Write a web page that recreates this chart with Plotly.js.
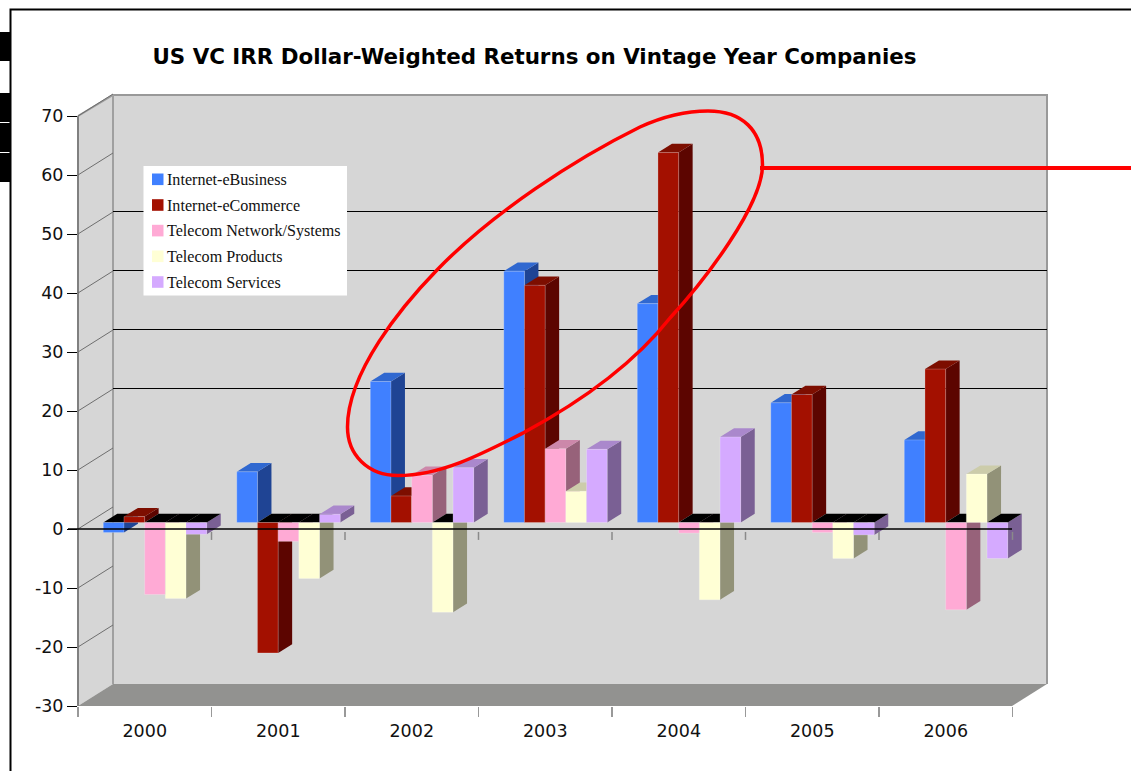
<!DOCTYPE html>
<html>
<head>
<meta charset="utf-8">
<script src="https://cdn.plot.ly/plotly-3.0.1.min.js"></script>
<style>html,body{margin:0;padding:0;background:#fff}</style>
</head>
<body>
<div id="chart" style="width:1131px;height:771px"></div>
<script>
// ---- data ----
const years = ['2000','2001','2002','2003','2004','2005','2006'];
const internetEBusiness  = [-1.7,  8.6, 23.9, 42.6, 37.1, 20.3, 14.0];
const internetECommerce  = [ 1.0,-22.1,  4.5, 40.2, 62.7, 21.7, 26.0];
const telecomNetwork     = [-12.2,-3.2,  8.0, 12.5, -1.8, -1.7,-14.8];
const telecomProducts    = [-12.9,-9.5,-15.2,  5.3,-13.1, -6.1,  8.2];
const telecomServices    = [-2.0,  1.4,  9.3, 12.4, 14.5, -2.1, -6.1];
const seriesNames  = ['Internet-eBusiness','Internet-eCommerce','Telecom Network/Systems','Telecom Products','Telecom Services'];
const seriesValues = [internetEBusiness,internetECommerce,telecomNetwork,telecomProducts,telecomServices];
const frontColors = ['#4080ff','#a31000','#ffaad5','#ffffd5','#d5aaff'];
const sideColors  = ['#1f4494','#5c0500','#97627a','#929278','#7a6094'];
const topColors   = ['#3068d0','#7d0e00','#cc88aa','#ccccaa','#aa88cc'];
const yTicks = [-30,-20,-10,0,10,20,30,40,50,60,70];
const wallGrid = [20,30,40,50];

// ---- geometry of the fake 3-D box ----
const L=78, R=1047, T=95, B=706;
const pxPerCat=133.5, pxPerUnit=5.9;
const wallDx=35, wallDy=22;
const barShiftX=10.25/pxPerCat, barShiftY=6.5/pxPerUnit;
const depthX=14/pxPerCat, depthY=8.7/pxPerUnit;
const bargap=0.225, barW=(1-bargap)/5;
const xRange=[-0.5,-0.5+(R-L)/pxPerCat];
const yRange=[-30,-30+(B-T)/pxPerUnit];
const px=x=>(x-L)/(R-L), py=y=>(B-y)/(B-T);

const shapes=[], annotations=[];
const paperRect=(x0,y0,x1,y1,fill)=>shapes.push({type:'rect',xref:'paper',yref:'paper',layer:'below',
  x0:px(x0),x1:px(x1),y0:py(y0),y1:py(y1),fillcolor:fill,line:{width:0}});
const paperPath=(pts,fill,line)=>shapes.push({type:'path',xref:'paper',yref:'paper',layer:'below',
  path:'M'+pts.map(p=>px(p[0])+','+py(p[1])).join('L')+(fill?'Z':''),fillcolor:fill||'rgba(0,0,0,0)',line:line||{width:0}});

// page furniture
[[32,61],[93,122],[123,152],[153,182]].forEach(b=>paperRect(0,b[0],10,b[1],'#000'));
paperPath([[10.5,771],[10.5,9.5],[1131,9.5]],null,{color:'#000',width:2});

// walls and floor
paperPath([[L,B],[L,B-590],[L+wallDx,T],[L+wallDx,B-wallDy]],'#d6d6d6');
paperPath([[L+wallDx,T],[R,T],[R,B-wallDy],[L+wallDx,B-wallDy]],'#d6d6d6');
paperPath([[L,B],[L+wallDx,B-wallDy],[R,B-wallDy],[R-wallDx,B]],'#929290');
paperPath([[L,B],[L,B-590]],null,{color:'#808080',width:2});
paperPath([[L,B-590],[L+wallDx,T],[R,T],[R,B-wallDy]],null,{color:'#999',width:2});
paperPath([[L+wallDx,T],[L+wallDx,B-wallDy]],null,{color:'#a0a0a0',width:2});
yTicks.slice(1).forEach(v=>{
  const y=B-(v-yRange[0])*pxPerUnit;
  paperPath([[L,y],[L+wallDx,y-wallDy]],null,{color:'#6e6e6e',width:1});
});
wallGrid.forEach(v=>{
  const y=B-(v-yRange[0])*pxPerUnit-wallDy-0.5;
  paperPath([[L+wallDx,y],[R,y]],null,{color:'#000',width:1});
});

// bar side and top faces, through the bars' own axes
const poly=(pts,fill)=>shapes.push({type:'path',xref:'x2',yref:'y2',layer:'below',
  path:'M'+pts.map(p=>p[0]+','+p[1]).join('L')+'Z',fillcolor:fill,line:{width:0}});
years.forEach((yr,i)=>{
  seriesValues.forEach((vals,k)=>{
    const v=vals[i], x0=i-(1-bargap)/2+k*barW, x1=x0+barW;
    const top=Math.max(v,0);
    poly([[x1,0],[x1,v],[x1+depthX,v+depthY],[x1+depthX,depthY]],sideColors[k]);
    poly([[x0,top],[x1,top],[x1+depthX,top+depthY],[x0+depthX,top+depthY]],v<0?'#000':topColors[k]);
  });
});

// zero line and the small ticks under it (above the bars)
shapes.push({type:'line',xref:'paper',yref:'y',layer:'above',x0:px(68),x1:px(R-wallDx),y0:0,y1:0,line:{color:'#000',width:1.5}});
for(let i=1;i<=years.length;i++){
  shapes.push({type:'line',xref:'x',yref:'y',layer:'above',x0:i-0.5,x1:i-0.5,y0:-0.5,y1:-1.85,line:{color:'#8a8a8a',width:1.5}});
}
// legend box
paperRect(143.5,166,347,295.5,'#fff');
const rowY=[179.3,205,230.6,256.3,282];
seriesNames.forEach((n,k)=>{
  paperRect(152,rowY[k]-5.8,163.5,rowY[k]+5.8,frontColors[k]);
  annotations.push({xref:'paper',yref:'paper',x:px(166),y:py(rowY[k]),xanchor:'left',yanchor:'middle',showarrow:false,
    text:n,font:{family:'"Liberation Serif",serif',size:16.1,color:'#111'},borderpad:0});
});

// red callout
shapes.push({type:'path',xref:'paper',yref:'paper',layer:'above',fillcolor:'rgba(0,0,0,0)',line:{color:'#ff0000',width:3.5},
  path:['M',px(708),py(111),
    'C',px(742),py(111),px(762.5),py(130),px(762.5),py(165),
    'C',px(762.5),py(205),px(705),py(280),px(670),py(318),
    'C',px(632),py(366),px(575),py(405),px(523),py(433),
    'C',px(480),py(455),px(440),py(475.5),px(398),py(475.5),
    'C',px(368),py(475.5),px(347.5),py(455),px(347.5),py(427),
    'C',px(347.5),py(372),px(402),py(306),px(437),py(270),
    'C',px(492),py(213),px(575),py(159),px(640),py(127),
    'C',px(662),py(117),px(685),py(111),px(708),py(111),'Z'].join(' ')});
shapes.push({type:'line',xref:'paper',yref:'paper',layer:'above',x0:px(760),x1:px(1131),y0:py(168),y1:py(168),line:{color:'#ff0000',width:4}});

const data=[{type:'scatter',mode:'none',x:years,y:years.map(()=>0),xaxis:'x',yaxis:'y',showlegend:false,hoverinfo:'skip'}];
seriesNames.forEach((n,k)=>data.push({
  type:'bar',name:n,x:years.map((_,i)=>i),y:seriesValues[k],xaxis:'x2',yaxis:'y2',
  marker:{color:frontColors[k],line:{width:1,color:'rgba(255,255,255,0.22)'}},showlegend:false
}));

const tickFont={family:'"DejaVu Sans",sans-serif',size:17.5,color:'#111'};
const layout={
  width:1131,height:771,paper_bgcolor:'#fff',plot_bgcolor:'rgba(0,0,0,0)',showlegend:false,
  margin:{l:L,r:1131-R,t:T,b:771-B,pad:0},
  barmode:'group',bargap:bargap,bargroupgap:0,
  title:{text:'<b>US VC IRR Dollar-Weighted Returns on Vintage Year Companies</b>',
    font:{family:'"DejaVu Sans",sans-serif',size:21.4,color:'#000'},
    x:534.5/1131,xanchor:'center',xref:'container',y:1-57/771,yanchor:'middle',yref:'container'},
  xaxis:{type:'category',categoryorder:'array',categoryarray:years,range:xRange,autorange:false,fixedrange:true,
    tickson:'boundaries',ticks:'outside',ticklen:10,tickwidth:1.5,tickcolor:'#999',ticklabelstandoff:12,showgrid:false,zeroline:false,showline:false,tickfont:tickFont},
  yaxis:{range:yRange,autorange:false,tickvals:yTicks,ticktext:yTicks.map(String),ticks:'outside',ticklen:10,tickwidth:1,tickcolor:'#000',
    showgrid:false,zeroline:false,showline:false,tickfont:tickFont},
  xaxis2:{overlaying:'x',anchor:'y2',type:'linear',range:[xRange[0]-barShiftX,xRange[1]-barShiftX],autorange:false,visible:false},
  yaxis2:{overlaying:'y',anchor:'x2',range:[yRange[0]-barShiftY,yRange[1]-barShiftY],autorange:false,visible:false},
  shapes:shapes,annotations:annotations
};
Plotly.newPlot('chart',data,layout,{displayModeBar:false,staticPlot:true});
</script>
</body>
</html>
